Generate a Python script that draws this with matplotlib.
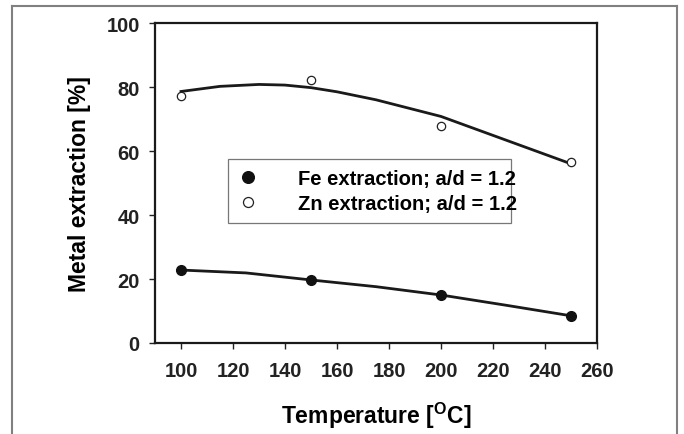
import matplotlib.pyplot as plt
from matplotlib.lines import Line2D

plt.rcParams['font.family'] = ['Liberation Sans', 'DejaVu Sans']
plt.rcParams['font.weight'] = 'bold'
plt.rcParams['axes.labelweight'] = 'bold'
plt.rcParams['mathtext.fontset'] = 'custom'
plt.rcParams['mathtext.rm'] = 'Liberation Sans:bold'
plt.rcParams['mathtext.bf'] = 'Liberation Sans:bold'

# measured points
temp = [100, 150, 200, 250]
fe = [22.8, 19.7, 15.0, 8.5]
zn = [77.1, 82.3, 67.7, 56.7]

# fitted curves
fe_fit_t = [100, 125, 150, 175, 200, 225, 250]
fe_fit = [22.8, 21.9, 19.7, 17.6, 15.0, 11.8, 8.5]
zn_fit_t = [100, 115, 130, 140, 150, 160, 175, 200, 225, 250]
zn_fit = [78.6, 80.2, 80.8, 80.6, 79.8, 78.5, 76.0, 70.8, 63.4, 56.0]

xticks = [100, 120, 140, 160, 180, 200, 220, 240, 260]
yticks = [0, 20, 40, 60, 80, 100]

fig = plt.figure(figsize=(6.84, 4.35), dpi=100)
ax = fig.add_axes([155/684, 1 - 344/435, 442/684, 320/435])

ax.plot(fe_fit_t, fe_fit, color='#1a1a1a', lw=2.0, zorder=2)
ax.plot(zn_fit_t, zn_fit, color='#1a1a1a', lw=2.0, zorder=2)
ax.plot(temp, fe, 'o', color='#111111', markersize=7, zorder=3,
        label='Fe extraction; a/d = 1.2')
ax.plot(temp, zn, 'o', mfc='white', mec='#222222', mew=0.9, markersize=6, zorder=3,
        label='Zn extraction; a/d = 1.2')

ax.set_xlim(90, 260)
ax.set_ylim(0, 100)
ax.set_xticks(xticks)
ax.set_yticks(yticks)
ax.tick_params(direction='out', length=4, width=1, labelsize=14.5, colors='#222222')
ax.tick_params(axis='y', pad=7)
ax.tick_params(axis='x', pad=9)
for sp in ax.spines.values():
    sp.set_linewidth(1.6)
    sp.set_color('#1a1a1a')

ax.set_xlabel(r'Temperature [$^{\mathrm{O}}$C]', fontsize=16.5, labelpad=14)
ax.set_ylabel('Metal extraction [%]', fontsize=16.5, labelpad=11)

leg = ax.legend(loc='lower left', bbox_to_anchor=(0.165, 0.375, 0.64, 0.203), mode='expand',
                fontsize=14.5, frameon=True, fancybox=False, edgecolor='#555555',
                handlelength=1.0, handletextpad=2.0, borderpad=0.5, labelspacing=0.3,
                borderaxespad=0, markerscale=1.2)
leg.get_frame().set_linewidth(0.9)

# outer frame of the figure panel
fc = '#808080'
fig.add_artist(Line2D([12/684, 12/684], [0, 1 - 7/435], color=fc, lw=1.5))
fig.add_artist(Line2D([12/684, 677/684], [1 - 7/435, 1 - 7/435], color=fc, lw=1.5))
fig.add_artist(Line2D([677/684, 677/684], [0, 1 - 7/435], color=fc, lw=1.5))

fig.savefig('out.png', dpi=100)
